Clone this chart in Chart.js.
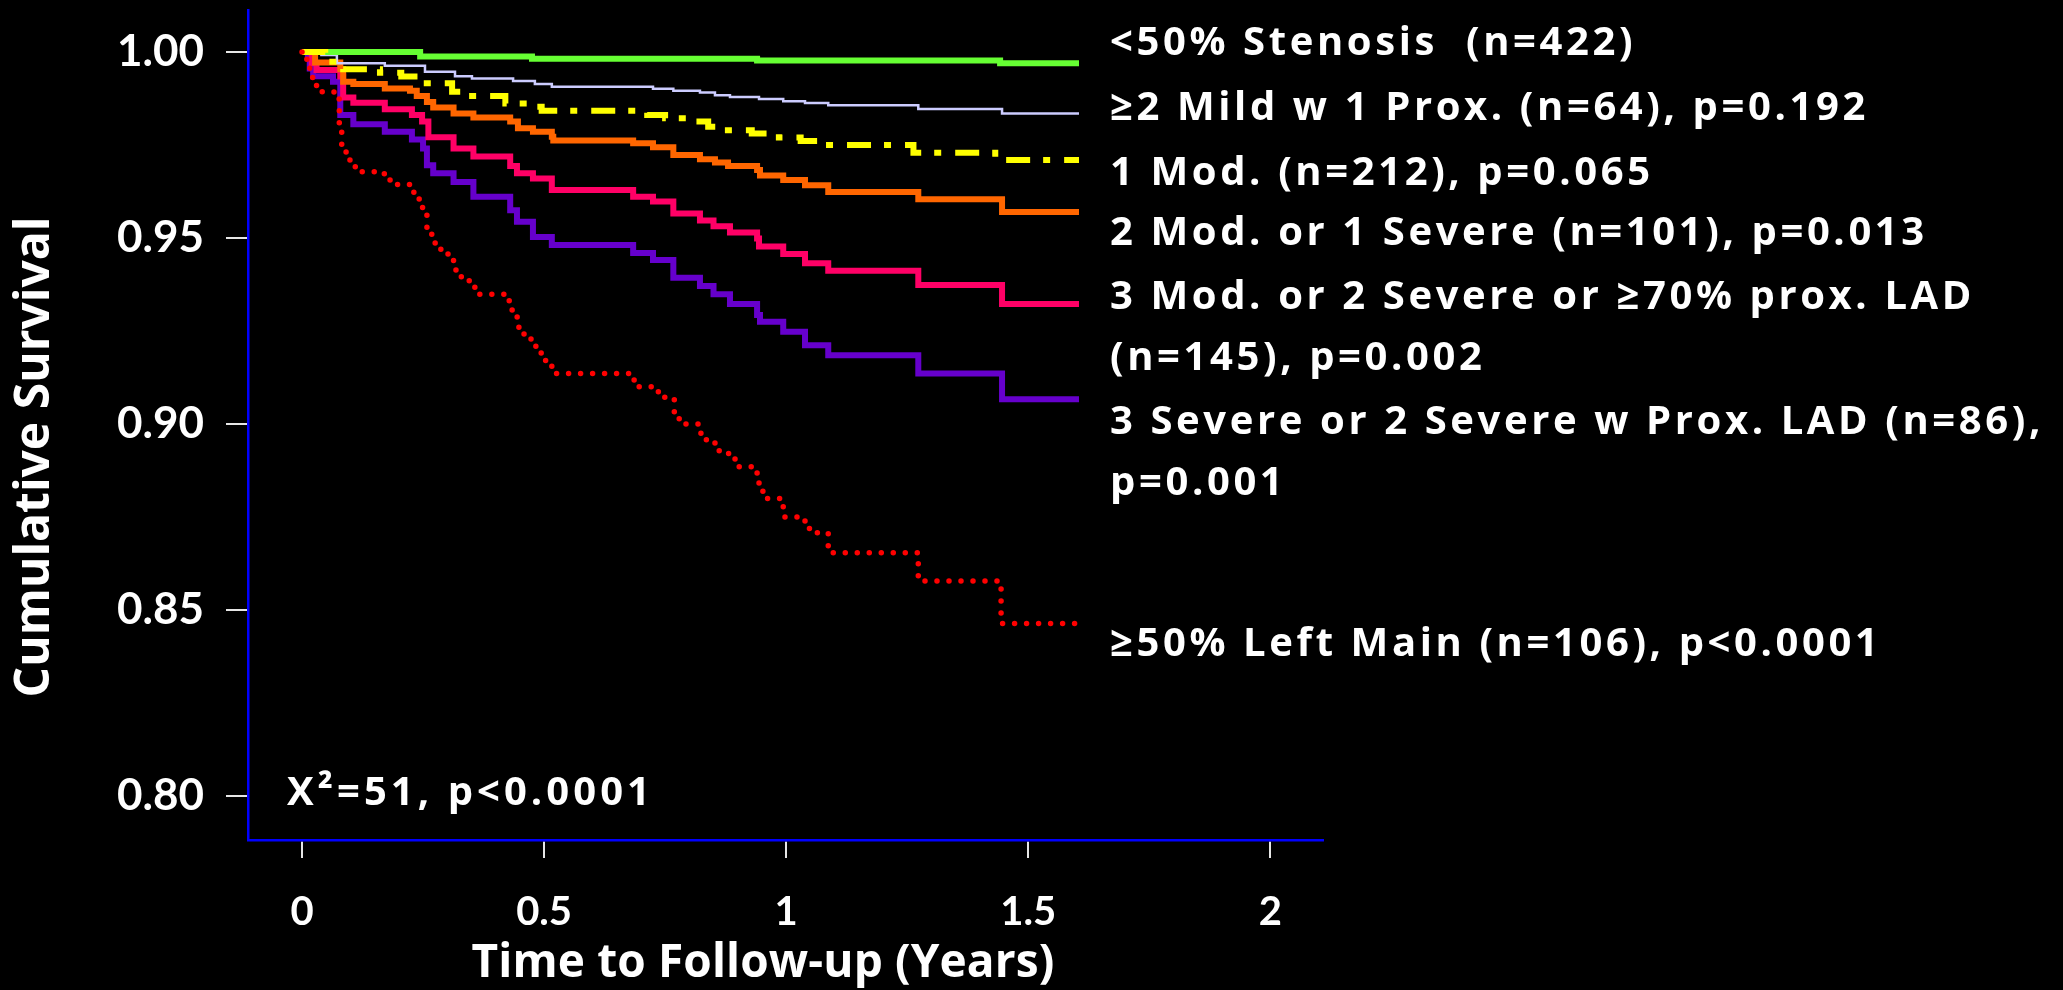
<!DOCTYPE html>
<html lang="en">
<head>
<meta charset="UTF-8" />
<title>Cumulative Survival</title>
<script src="https://cdn.jsdelivr.net/npm/chart.js@4.4.0/dist/chart.umd.min.js"></script>
<style>
  html, body { margin: 0; padding: 0; background: #000; }
  canvas { display: block; }
</style>
</head>
<body>
<canvas id="canvas" width="2063" height="990"></canvas>
<script>
// Kaplan-Meier steps: time (years) and survival
var tGreen = [0, 0.244, 0.475, 0.94, 1.442, 1.605];
var sGreen = [1, 0.9988, 0.9982, 0.9977, 0.9970, 0.9970];

var tLav = [0, 0.04, 0.072, 0.171, 0.254, 0.316, 0.351, 0.436, 0.481, 0.516, 0.725, 0.767, 0.822, 0.853, 0.884, 0.944, 0.994, 1.039, 1.087, 1.273, 1.446, 1.605];
var sLav = [1, 0.9992, 0.997, 0.9963, 0.9947, 0.9935, 0.9929, 0.9922, 0.9914, 0.9907, 0.9901, 0.9896, 0.9891, 0.9884, 0.9879, 0.9874, 0.9868, 0.9863, 0.9857, 0.9847, 0.9835, 0.9835];

var tYel = [0, 0.048, 0.085, 0.161, 0.205, 0.248, 0.31, 0.341, 0.42, 0.471, 0.495, 0.713, 0.75, 0.795, 0.839, 0.865, 0.929, 0.985, 1.03, 1.074, 1.263, 1.432, 1.605];
var sYel = [1, 0.9974, 0.9954, 0.9944, 0.9934, 0.9916, 0.9893, 0.9882, 0.9862, 0.9853, 0.9842, 0.9831, 0.9822, 0.9813, 0.9799, 0.979, 0.9781, 0.977, 0.9761, 0.975, 0.9729, 0.971, 0.971];

var tOra = [0, 0.027, 0.079, 0.085, 0.106, 0.171, 0.223, 0.237, 0.258, 0.271, 0.313, 0.354, 0.43, 0.446, 0.477, 0.516, 0.519, 0.684, 0.725, 0.767, 0.822, 0.853, 0.88, 0.94, 0.946, 0.994, 1.039, 1.087, 1.273, 1.446, 1.605];
var sOra = [1, 0.9972, 0.9954, 0.992, 0.9914, 0.9902, 0.9896, 0.9882, 0.9866, 0.9851, 0.9835, 0.9824, 0.9813, 0.9795, 0.9786, 0.9772, 0.9762, 0.9755, 0.9744, 0.9723, 0.9712, 0.9703, 0.9694, 0.9683, 0.9668, 0.9656, 0.9642, 0.9624, 0.9604, 0.957, 0.957];

var tPink = [0, 0.02, 0.03, 0.079, 0.085, 0.106, 0.171, 0.227, 0.248, 0.261, 0.313, 0.354, 0.43, 0.444, 0.477, 0.516, 0.684, 0.725, 0.767, 0.822, 0.85, 0.884, 0.94, 0.944, 0.994, 1.039, 1.087, 1.273, 1.446, 1.605];
var sPink = [1, 0.997, 0.9952, 0.9934, 0.9878, 0.9864, 0.9846, 0.9831, 0.9813, 0.9771, 0.9741, 0.9719, 0.9694, 0.9674, 0.966, 0.9629, 0.9611, 0.9598, 0.9566, 0.9547, 0.9532, 0.9515, 0.9499, 0.9477, 0.9457, 0.9432, 0.9412, 0.9374, 0.9323, 0.9323];

var tPur = [0, 0.012, 0.016, 0.023, 0.064, 0.079, 0.106, 0.171, 0.227, 0.25, 0.258, 0.271, 0.313, 0.354, 0.43, 0.444, 0.477, 0.516, 0.684, 0.725, 0.767, 0.822, 0.85, 0.884, 0.94, 0.946, 0.994, 1.039, 1.087, 1.273, 1.446, 1.605];
var sPur = [1, 0.9983, 0.9956, 0.9935, 0.992, 0.9831, 0.9806, 0.9786, 0.9765, 0.9741, 0.9696, 0.9674, 0.9651, 0.9611, 0.9575, 0.9544, 0.9503, 0.9481, 0.946, 0.9441, 0.9393, 0.9371, 0.9349, 0.9323, 0.9293, 0.9275, 0.9248, 0.9212, 0.9185, 0.9136, 0.9067, 0.9067];

var tRed = [0, 0.01, 0.016, 0.022, 0.03, 0.066, 0.077, 0.082, 0.091, 0.099, 0.11, 0.17, 0.185, 0.222, 0.231, 0.242, 0.249, 0.258, 0.268, 0.275, 0.29, 0.313, 0.318, 0.335, 0.351, 0.357, 0.428, 0.434, 0.446, 0.448, 0.473, 0.483, 0.494, 0.516, 0.686, 0.725, 0.74, 0.769, 0.783, 0.824, 0.853, 0.872, 0.884, 0.895, 0.94, 0.944, 0.952, 0.994, 1.039, 1.056, 1.087, 1.273, 1.444, 1.605];
var sRed = [1, 0.9965, 0.9941, 0.9916, 0.9893, 0.9874, 0.9793, 0.9735, 0.9715, 0.9699, 0.9678, 0.9656, 0.9644, 0.9631, 0.9607, 0.9587, 0.9565, 0.9511, 0.9493, 0.947, 0.9457, 0.9421, 0.9396, 0.9385, 0.9376, 0.9349, 0.9315, 0.9288, 0.9271, 0.9242, 0.921, 0.9192, 0.9171, 0.9136, 0.91, 0.9087, 0.9072, 0.9014, 0.90, 0.8958, 0.8928, 0.8921, 0.8906, 0.8885, 0.8849, 0.8823, 0.88, 0.875, 0.8719, 0.8708, 0.8654, 0.8578, 0.8464, 0.8464];

var xTicks = [0, 0.5, 1, 1.5, 2];
var yTicks = [0.80, 0.85, 0.90, 0.95, 1.00];

var legendText = [
    "<50% Stenosis  (n=422)",
    "\u22652 Mild w 1 Prox. (n=64), p=0.192",
    "1 Mod. (n=212), p=0.065",
    "2 Mod. or 1 Severe (n=101), p=0.013",
    "3 Mod. or 2 Severe or \u226570% prox. LAD",
    "(n=145), p=0.002",
    "3 Severe or 2 Severe w Prox. LAD (n=86),",
    "p=0.001",
    "\u226550% Left Main (n=106), p<0.0001"
];
var legendY = [1.0024, 0.9849, 0.9672, 0.9511, 0.9341, 0.9177, 0.9005, 0.8839, 0.8406];
var legendX = 1.669;
var chiText = "X\u00b2=51, p<0.0001";
var chiX = -0.031, chiY = 0.8008;

var FONT = "'Open Sans', Lato, sans-serif";
var TICKFONT = "Lato, 'Open Sans', sans-serif";

function steps(t, s) {
    return t.map(function (v, i) { return { x: v, y: s[i] }; });
}

function line(t, s, color, width, extra) {
    var ds = {
        data: steps(t, s),
        borderColor: color,
        borderWidth: width,
        stepped: true,
        pointRadius: 0,
        fill: false
    };
    return Object.assign(ds, extra || {});
}

// widen the text by letter spacing so it covers the width seen in the picture
function spread(ctx, text, width) {
    if (!("letterSpacing" in ctx)) return;
    ctx.letterSpacing = "0px";
    var w = ctx.measureText(text).width;
    ctx.letterSpacing = Math.max(0, (width - w) / text.length) + "px";
}

var textPlugin = {
    id: "texts",
    afterDraw: function (chart) {
        var ctx = chart.ctx;
        var xs = chart.scales.x, ys = chart.scales.y, area = chart.chartArea;
        ctx.save();
        ctx.fillStyle = "#ffffff";
        ctx.textBaseline = "middle";
        ctx.textAlign = "left";

        ctx.font = "bold 40px " + FONT;
        spread(ctx, legendText[6], 934);
        var lx = xs.getPixelForValue(legendX);
        legendText.forEach(function (txt, i) {
            ctx.fillText(txt, lx, ys.getPixelForValue(legendY[i]));
        });
        spread(ctx, chiText, 367);
        ctx.fillText(chiText, xs.getPixelForValue(chiX), ys.getPixelForValue(chiY));

        ctx.textAlign = "center";
        ctx.font = "bold 46px " + FONT;
        spread(ctx, "Time to Follow-up (Years)", 583);
        ctx.fillText("Time to Follow-up (Years)", area.left + 515, area.bottom + 124);
        ctx.font = "bold 48px " + FONT;
        spread(ctx, "Cumulative Survival", 450);
        ctx.translate(35, area.top + 447);
        ctx.rotate(-Math.PI / 2);
        ctx.fillText("Cumulative Survival", 0, 0);
        ctx.restore();
    }
};

var ctx = document.getElementById("canvas").getContext("2d");
var chart = new Chart(ctx, {
    type: "line",
    data: {
        datasets: [
            line(tRed, sRed, "#ff0000", 5.5, { borderDash: [0, 12], borderCapStyle: "round" }),
            line(tYel, sYel, "#ffff00", 6, { borderDash: [24, 13, 7, 14] }),
            line(tGreen, sGreen, "#66ff33", 6),
            line(tLav, sLav, "#ccccff", 2.5),
            line(tOra, sOra, "#ff6600", 6),
            line(tPink, sPink, "#ff0066", 6),
            line(tPur, sPur, "#6600cc", 6)
        ]
    },
    options: {
        responsive: false,
        animation: false,
        layout: { padding: { top: 10, right: 740, left: 0, bottom: 0 } },
        plugins: { legend: { display: false }, tooltip: { enabled: false } },
        scales: {
            x: {
                type: "linear",
                min: -0.1116,
                max: 2.109,
                afterBuildTicks: function (s) { s.ticks = xTicks.map(function (v) { return { value: v }; }); },
                afterFit: function (s) { s.height = 150; s.paddingLeft = 0; s.paddingRight = 0; },
                border: { display: true, color: "#0000ff", width: 2.5 },
                grid: { drawOnChartArea: false, color: "#e6e6e6", lineWidth: 2, tickLength: 18 },
                ticks: {
                    color: "#ffffff",
                    padding: 30,
                    maxRotation: 0,
                    font: { family: TICKFONT, size: 40, weight: "bold" },
                    callback: function (v) { return String(v); }
                }
            },
            y: {
                type: "linear",
                min: 0.7882,
                max: 1.0113,
                afterBuildTicks: function (s) { s.ticks = yTicks.map(function (v) { return { value: v }; }); },
                afterFit: function (s) { s.width = 248; s.paddingTop = 0; s.paddingBottom = 0; },
                border: { display: true, color: "#0000ff", width: 2.5 },
                grid: { drawOnChartArea: false, color: "#e6e6e6", lineWidth: 2, tickLength: 22 },
                ticks: {
                    color: "#ffffff",
                    padding: 22,
                    font: { family: TICKFONT, size: 44, weight: "bold" },
                    callback: function (v) { return v.toFixed(2); }
                }
            }
        }
    },
    plugins: [textPlugin]
});
</script>
</body>
</html>
